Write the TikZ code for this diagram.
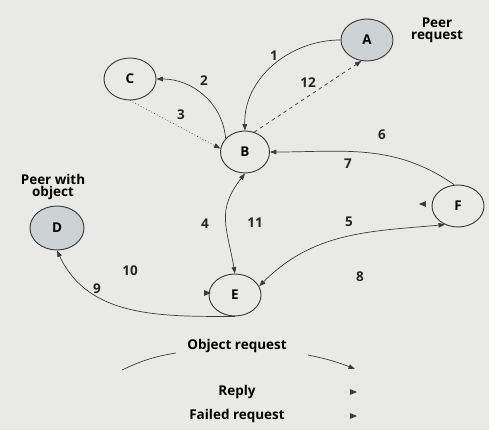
\documentclass[tikz,border=0pt]{standalone}
\usepackage{fontspec}
\setmainfont{Open Sans}
\usetikzlibrary{arrows.meta,shapes.geometric}
\definecolor{paper}{RGB}{233,234,232}
\definecolor{peerfill}{RGB}{203,211,212}
\definecolor{inkline}{RGB}{60,60,60}
\begin{document}
\begin{tikzpicture}[x=0.03cm, y=-0.03cm, font=\bfseries\fontsize{11.5}{13}\selectfont,
    peer/.style={ellipse, draw=inkline, thick, minimum width=52*0.03cm, minimum height=42*0.03cm, inner sep=0pt},
    source/.style={peer, fill=peerfill},
    link/.style={draw=inkline, semithick, -{Triangle[length=5.5pt,width=4pt]}},
    twoway/.style={link, {Triangle[length=5.5pt,width=4pt]}-{Triangle[length=5.5pt,width=4pt]}},
    replytip/.style={isosceles triangle, fill=inkline, inner sep=0pt, minimum height=6pt, minimum width=4.5pt, isosceles triangle apex angle=45},
    step label/.style={text=black!85}]
  \fill[paper] (0,0) rectangle (489,430);
  \useasboundingbox (0,0) rectangle (489,430);

  % peers
  \node[source] (A) at (367,40) {A};
  \node[peer] (C) at (130,79) {C};
  \node[peer, minimum width=49*0.03cm] (B) at (245,152) {B};
  \node[peer] (F) at (458,206) {F};
  \node[source, minimum width=54*0.03cm, minimum height=44*0.03cm] (D) at (57,228) {D};
  \node[peer] (E) at (235,295) {E};
  \node[align=center] (peerreq) at (437,30) {Peer\\[-3pt]request};
  \node[align=center] (peerobj) at (53,187) {Peer with\\[-3pt]object};

  % requests
  \draw[link] (A.west) to[out=180,in=92] (B.north);
  \draw[link, dashed] (B.65) -- (A.255);
  \draw[link] (B.145) to[out=95,in=0] (C.east);
  \draw[link, dotted] (C.south) -- (B.172);
  \draw[link] (F.100) to[out=145,in=0] (B.east);
  \draw[twoway] (B.south) to[out=232,in=100, looseness=1.2] (E.north);
  \draw[twoway] (E.20) to[out=45,in=185] (F.235);
  \draw[link] (E.south) to[out=180,in=-65] (D.south);

  % replies
  \node[replytip, rotate=180] (r7) at (424,204) {};
  \node[replytip] (r10) at (206,293) {};

  % step numbers
  \node[step label] (n1) at (274,56) {1};
  \node[step label] (n2) at (204,81) {2};
  \node[step label] (n3) at (181,115) {3};
  \node[step label] (n12) at (308,83) {12};
  \node[step label] (n6) at (382,135) {6};
  \node[step label] (n7) at (348,164) {7};
  \node[step label] (n4) at (205,224) {4};
  \node[step label] (n11) at (255,223) {11};
  \node[step label] (n5) at (349,222) {5};
  \node[step label] (n8) at (360,277) {8};
  \node[step label] (n10) at (130,271) {10};
  \node[step label] (n9) at (97,289) {9};

  % legend
  \node (objreq) at (237,346) {Object request};
  \coordinate (ol1) at (122,370);
  \coordinate (ol2) at (176,353);
  \coordinate (or1) at (308,355);
  \coordinate (or2) at (355,369);
  \draw[draw=inkline, semithick] (ol1) to[bend left=8] (ol2);
  \draw[link] (or1) to[bend left=5] (or2);
  \node (reply) at (237,392) {Reply};
  \node[replytip] (replykey) at (352,392) {};
  \node (failed) at (237,416) {Failed request};
  \node[replytip] (failkey) at (352,416) {};
\end{tikzpicture}
\end{document}
